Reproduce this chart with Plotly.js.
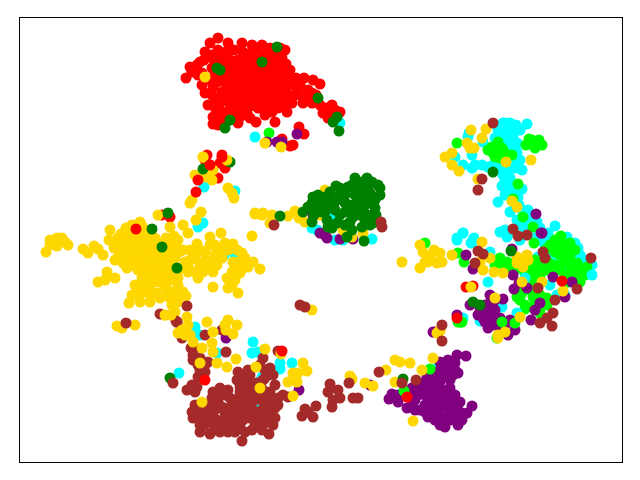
<!DOCTYPE html>
<html lang="en">
<head>
    <meta charset="UTF-8">
    <title>Embedding scatter</title>
    <script src="https://cdn.plot.ly/plotly-3.0.1.min.js"></script>
    <style>
        body, html { margin: 0; padding: 0; background: white; }
        #chart { width: 640px; height: 480px; }
    </style>
</head>
<body>
    <div id="chart"></div>
    <script>
        // points, one list per colour, in embedding units
        const red = [[218,38],[210,43],[228,43],[242,43],[252,45],[270,48],[207,55],[190,67],[186,78],[197,65],[202,73],[202,85],[217,82],[212,95],[208,105],[220,103],[213,117],[218,125],[228,120],[238,123],[256,122],[275,122],[265,115],[247,113],[287,112],[292,103],[297,90],[296,78],[287,75],[282,58],[313,80],[320,84],[308,90],[303,103],[312,103],[320,105],[323,113],[332,105],[340,112],[328,118],[299,127],[304,134],[282,139],[290,146],[293,145],
            [218,50],[226,52],[234,50],[243,52],[251,53],[259,50],[267,54],[275,55],[214,60],[222,60],[230,60],[238,60],[246,60],[254,60],[270,62],[278,64],[286,64],[212,68],[226,68],[234,68],[242,68],[250,68],[258,68],[266,68],[274,70],[282,70],[290,70],[222,76],[230,76],[238,76],[246,76],[254,76],[262,76],[270,76],[278,76],[226,84],[234,84],[242,84],[250,84],[258,84],[266,84],[274,84],[282,84],[290,84],[222,92],[230,92],[238,92],[246,92],[254,92],[262,92],[270,92],[278,92],[286,92],[226,100],[234,100],[242,100],[250,100],[258,100],[266,100],[274,100],[282,100],[230,108],[240,108],[250,106],[258,108],[268,107],[278,108],[222,112],[236,114],[302,96],[316,95],[326,108],[335,110],
            [204,60],[212,55],[205,52],[200,62],[215,72],[210,80],[205,93],[213,87],[216,100],[216,110],[222,118],[213,124],[232,112],[240,117],[250,118],[262,108],[272,112],[283,106],[290,97],[300,85],[292,84],[304,78],[285,50],[280,48],[283,68],[295,95],[305,97],[312,93],[316,100],[328,112],[335,118],[192,72],[198,75],[218,55],[262,55],[262,45],
            [207,155],[222,155],[210,165],[220,163],[225,168],[218,178],[162,215],[170,217],[466,287],[473,286],[205,160]];
        const redTop = [[198,180],[196,192],[136,229],[205,380],[407,397],[457,318],[562,281],[282,351],[210,165],[222,157]];
        const cyan = [[503,123],[510,123],[516,125],[527,124],[469,133],[468,137],[498,130],[495,138],[513,137],[517,143],[517,152],[510,132],[505,130],[508,145],[472,155],[463,165],[472,168],[482,165],[493,165],[508,170],[522,170],[515,168],[503,175],[510,178],[502,186],[510,187],[522,189],[518,197],[498,202],[510,212],[522,210],[528,210],[517,220],[527,218],[537,222],[463,233],[457,238],[472,242],[455,157],[483,142],[513,160],
            [505,123],[512,128],[520,130],[500,135],[505,138],[517,130],[510,142],[515,148],[520,160],[512,152],[518,165],[505,180],[513,192],[505,195],[519,205],[515,205],[530,215],[520,225],[505,230],[500,232],[475,165],[488,167],[500,168],
            [457,240],[463,233],[471,243],[474,238],[490,252],[507,237],[510,232],[520,240],[548,233],[567,237],[575,243],[580,255],[592,265],[538,257],[550,250],[552,257],[552,265],[567,268],[533,227],[525,228],[540,228],[555,226],[585,260],[578,248],[572,245],[585,270],[540,240],[545,245],[535,238],[550,240],
            [204,187],[235,191],[203,223],[198,227],[224,255],[235,255],[255,137],[340,123],[200,335],[195,327],[217,353],[255,408],[262,377],[272,398]];
        const cyanTop = [[179,373],[253,342],[252,353],[258,352],[280,363],[280,369],[292,363],[437,368],[488,282],[525,278],[550,285],[557,295],[565,295],[496,321],[480,321],[502,307],[517,313],[463,318],[592,275],[333,215],[312,228],[317,230],[335,240],[343,240],[372,239],[356,205]];
        const lime = [[457,143],[492,147],[493,153],[502,148],[505,153],[498,142],[529,139],[533,145],[539,140],[542,145],[497,148],[500,158],[488,150],[495,157],[512,155],[535,148],[532,140],[526,145],[518,184],[513,199],[533,227],[523,217],[269,133],[425,243],[458,253],[464,262],
            [500,262],[507,262],[512,264],[560,237],[557,247],[567,253],[563,263],[577,263],[578,273],[580,282],[587,267],[570,243],[570,273],[555,240],[560,255],[550,270],[565,278],[572,262],[585,275],[533,267],[537,275],[528,277],[532,282],[517,297],[525,305],[533,297],[525,309],[547,305],[540,313],
            [565,245],[575,250],[555,252],[550,245],[545,250],[560,245],[570,258],[555,265],[548,262],[542,268],[535,260],[530,270],[540,278],[552,273],[575,270],[585,268],[572,275],[560,270],[568,282],[530,290],[520,300],[522,293],[535,305],[540,295],[547,298],[505,267],[495,265],[515,270],[525,273],[500,258],[508,268]];
        const limeTop = [[561,236],[534,243],[502,322],[515,323],[462,322],[458,322],[497,338],[404,391],[430,369],[460,322],[545,270],[540,262],[563,250],[570,265]];
        const purple = [[435,332],[457,355],[466,356],[458,373],[455,363],[440,362],[447,368],[427,377],[412,388],[420,383],[392,394],[389,399],[398,402],[407,408],[420,410],[430,400],[428,417],[435,420],[445,427],[458,425],[467,413],[472,406],[460,402],[447,390],[437,383],[433,392],[443,375],[440,400],[450,380],[450,398],[450,410],[440,410],[455,415],[445,418],[432,410],[425,395],[415,400],
            [425,385],[430,385],[440,390],[445,395],[440,382],[450,388],[435,398],[425,405],[418,395],[410,395],[402,395],[415,410],[425,412],[435,405],[445,405],[455,405],[460,412],[462,420],[450,420],[440,425],[432,415],[438,415],[455,395],[453,375],[448,360],[455,370],[445,375],[435,375],[430,370],[440,370],[420,390],[398,395],[412,405],
            [536,214],[541,233],[542,233],[512,249],[466,255],[473,269],[553,277],[572,282],[565,297],[513,275],[514,289],[527,288],[490,295],[490,303],[488,310],[470,305],[480,312],[503,299],[490,317],[510,320],[503,330],[488,328],[535,310],[531,320],[508,335],[540,303],[500,318],[519,283],[483,318],[457,315],[433,332],[495,300],[485,305],[495,310],[480,308],[478,315],[500,325],[495,325],[505,325],[515,330],[485,322],
            [313,215],[320,233],[325,235],[327,238],[340,239],[353,239],[297,134],[277,142],[282,142],[267,142],[226,338],[299,390],[370,385]];
        const gold = [[203,157],[227,160],[195,175],[205,177],[212,180],[213,170],[192,200],[190,203],[228,188],[232,193],[234,198],[201,212],[196,220],[183,225],[188,233],[158,215],[170,227],[205,77],[265,143],[281,147],
            [46,252],[50,240],[50,245],[57,238],[62,238],[57,246],[65,242],[68,245],[83,249],[88,253],[94,246],[103,255],[98,249],
            [110,230],[109,240],[115,260],[132,225],[140,222],[121,234],[114,248],[122,242],[130,234],[138,232],[146,236],[155,238],[123,252],[131,243],[139,242],[147,246],[156,248],[170,242],[178,240],[123,263],[131,252],[139,252],[147,255],[155,257],[163,256],[171,252],[179,252],[183,250],[130,262],[138,261],[146,264],[154,266],[162,265],[170,262],[178,270],[138,270],[146,273],[154,275],[162,274],[170,272],[178,278],[107,272],[98,282],[105,280],[115,278],
            [126,228],[134,229],[142,226],[150,230],[118,238],[126,238],[134,238],[142,238],[150,241],[158,243],[166,238],[174,236],[118,246],[126,248],[135,248],[143,250],[151,252],[160,252],[168,248],[176,246],[119,256],[127,258],[135,257],[143,258],[151,261],[159,261],[167,258],[175,258],[127,268],[135,266],[142,266],[150,270],[158,270],[166,268],[174,266],[142,278],[150,280],[158,280],[166,280],[174,280],[140,290],[150,295],[160,298],[170,298],[180,296],[165,286],[186,296],[138,296],
            [135,285],[142,282],[150,285],[158,282],[166,284],[145,292],[172,292],[129,303],[140,302],[132,295],[150,302],[157,293],[168,292],[183,292],[178,302],[172,305],[175,312],[165,315],[178,285],[117,326],[122,328],[135,325],
            [197,244],[210,237],[221,233],[233,244],[195,258],[205,252],[215,245],[225,243],[188,265],[198,278],[195,272],[208,268],[217,265],[205,260],[215,255],[200,265],[185,262],[190,250],[200,250],[210,245],[220,250],[228,250],[190,260],[210,262],[222,258],[203,272],[213,272],[188,272],[182,268],[252,236],[242,253],[233,262],[235,267],[237,250],[245,258],[238,262],[243,268],[232,272],[232,285],[253,262],[248,267],[240,273],[260,269],[235,280],[227,278],[228,288],[238,293],[213,287],[255,213],[262,215],
            [255,214],[263,213],[272,215],[270,223],[288,216],[295,211],[299,218],[305,222],[325,190],[320,215],[343,230],[352,237],[363,233],[312,310],
            [471,130],[486,129],[482,138],[467,143],[470,148],[474,148],[445,157],[452,153],[452,165],[459,171],[531,160],[506,162],[478,179],[512,201],[517,207],[420,245],[423,252],[420,268],[428,262],[437,263],[440,253],[430,257],[442,262],[425,262],[434,250],[452,255],[402,262],[482,242],[490,258],[483,270],[494,272],[503,273],[471,287],[480,262],
            [517,257],[522,263],[527,255],[523,267],[528,260],[517,263],[495,298],[522,282],[542,282],[563,291],[505,332],[498,335],[498,338],[520,317],[440,331],[438,333],[440,330],[437,333],
            [433,358],[422,370],[395,360],[400,362],[410,363],[386,370],[395,382],[350,376],[352,379],[365,383],[373,386],[413,421]];
        const goldTop = [[165,315],[182,330],[178,333],[187,317],[188,325],[185,335],[193,342],[190,335],[202,348],[212,343],[213,352],[217,363],[227,367],[236,359],[200,363],[213,332],[207,322],[228,320],[226,330],[237,325],[233,334],[225,325],[202,402],[265,349],[256,367],[281,354],[303,363],[307,371],[298,373],[288,382],[297,382],[293,373],[260,388],[293,396],[203,157],[227,160],[171,315]];
        const green = [[217,68],[220,70],[262,62],[277,47],[230,120],[225,128],[318,98],[337,117],[333,122],[339,131],[203,169],[230,162],[168,213],[152,229],[162,247],[177,268],
            [303,212],[313,197],[312,203],[312,222],[325,197],[336,186],[327,220],[328,227],[337,223],[355,178],[367,178],[378,185],[380,195],[375,208],[373,223],[362,227],[352,230],[347,237],[364,241],[353,217],[280,216],
            [320,205],[330,205],[340,195],[348,187],[358,186],[368,188],[345,203],[355,195],[365,197],[372,200],[335,210],[345,212],[362,208],[368,215],[322,212],[308,207],
            [315,210],[325,212],[335,202],[345,195],[352,185],[360,192],[370,193],[350,205],[358,202],[365,205],[340,215],[350,222],[375,200],[380,188],[365,220],[370,225],[360,215],[318,195],[330,192],[340,188],[325,205],[314,215],[332,228],[345,225],[372,215],[376,215],[362,182],[372,182],[355,210],[330,198],
            [493,172],[511,251],[473,302],[480,305],[403,379],[170,378]];
        const brown = [[187,306],[160,314],[177,322],[126,323],[274,225],[382,227],[381,222],[493,123],[482,179],[478,190],[513,229],[518,236],[527,235],[478,251],[483,254],[475,263],[543,252],[545,258],[591,258],[577,289],[538,288],[555,300],[553,313],[547,318],[552,326],[540,323],[442,325],[442,341],
            [300,305],[305,307],[173,383],[192,412],[193,418],[200,425],[210,434],[242,441],[269,434],[273,425],[252,430],[270,413],[262,410],[240,387],[176,321],[195,348],[191,348],[193,360],[208,362],[205,372],[198,377],[197,387],[187,390],[238,372],[237,380],[220,388],[213,392],[228,390],[218,402],[247,382],[257,383],[250,393],[243,403],[233,407],[225,413],[217,420],[207,417],[233,423],[243,420],[257,420],[263,425],[253,410],[240,427],[265,370],[270,368],[263,358],[260,365],[278,351],[275,385],[263,390],[278,398],[288,397],[273,403],[275,408],
            [200,412],[210,412],[220,425],[228,432],[240,412],[248,398],[240,397],[250,403],[262,400],[243,375],[248,370],[205,425],[255,425],[268,418],[226,352],[222,330],[205,335],[182,338],[177,322],
            [195,405],[200,418],[208,405],[205,420],[212,420],[215,410],[225,420],[222,407],[230,415],[235,400],[235,415],[245,412],[250,418],[258,415],[262,418],[268,405],[255,400],[248,388],[240,392],[230,398],[225,395],[218,395],[212,398],[250,375],[240,380],[245,395],[258,395],[268,395],[265,410],[200,370],[198,365],[200,358],[193,355],[205,365],[192,385],[195,392],[215,430],[225,425],[235,432],[245,432],[262,430],[275,418],[278,405],[220,432],[255,388],[263,380],[283,395],[265,378],[273,375],[270,392],[228,408],[237,408],[215,425],[200,432],
            [316,406],[305,409],[302,416],[313,417],[308,412],[330,384],[328,392],[338,390],[340,398],[333,400],[332,407],[353,398],[358,398],[349,383],[379,372],[416,380],[402,383]];

        const layers = [
            [red, '#ff0000'], [cyan, '#00ffff'], [lime, '#00ff00'], [cyanTop, '#00ffff'],
            [purple, '#800080'], [limeTop, '#00ff00'], [gold, '#ffd700'], [green, '#008000'],
            [brown, '#a52a2a'], [goldTop, '#ffd700'], [redTop, '#ff0000']
        ];

        const traces = layers.map(([pts, colour]) => ({
            x: pts.map(p => p[0]),
            y: pts.map(p => p[1]),
            type: 'scatter',
            mode: 'markers',
            marker: {size: 11, color: colour, line: {width: 0}},
            hoverinfo: 'skip'
        }));

        const frame = {
            showline: true, mirror: true, linecolor: 'black', linewidth: 1,
            showgrid: false, zeroline: false, showticklabels: false, ticks: ''
        };

        Plotly.newPlot('chart', traces, {
            width: 640,
            height: 480,
            showlegend: false,
            margin: {l: 20, r: 18, t: 18, b: 18, pad: 0},
            paper_bgcolor: 'white',
            plot_bgcolor: 'white',
            xaxis: Object.assign({range: [20, 622]}, frame),
            yaxis: Object.assign({range: [462, 18]}, frame)
        }, {displayModeBar: false});
    </script>
</body>
</html>
